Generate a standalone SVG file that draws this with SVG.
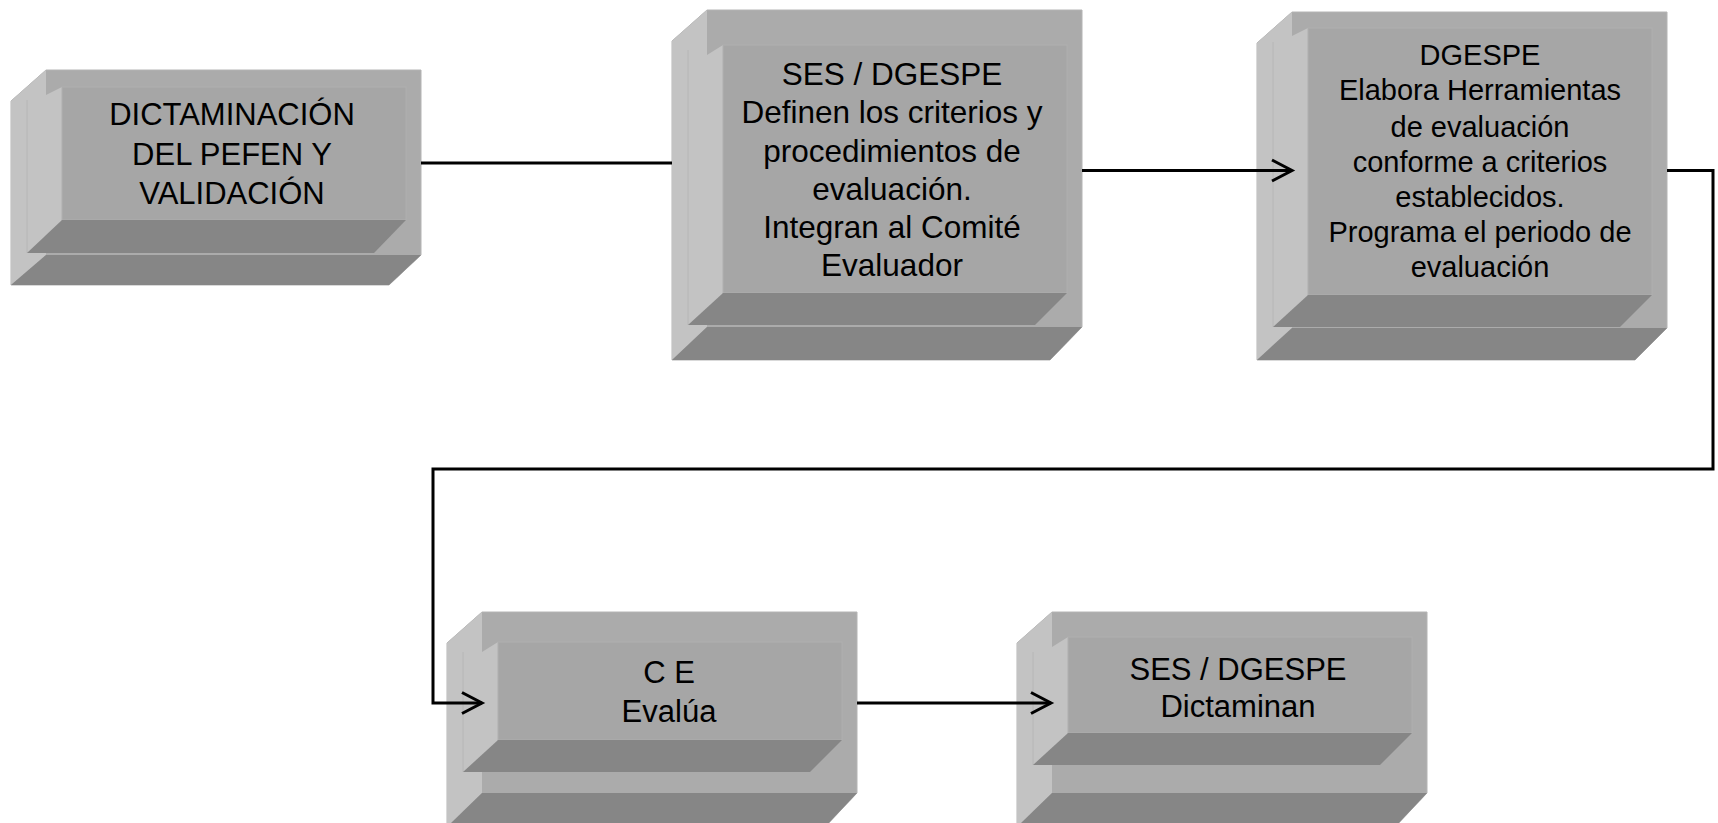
<svg xmlns="http://www.w3.org/2000/svg" width="1718" height="823" viewBox="0 0 1718 823">
<style>
.sil{fill:#ababab;stroke:#b4b4b4;stroke-width:1}
.panel{fill:#c3c3c3}
.pline{stroke:#b6b6b6;stroke-width:1;fill:none}
.face{fill:#a6a6a6;stroke:#afafaf;stroke-width:1}
.dark{fill:#868686}
.txt{font-family:"Liberation Sans",Arial,sans-serif;font-size:31px;fill:#000;text-anchor:middle}
.con{fill:none;stroke:#000;stroke-width:3;stroke-linejoin:miter}
</style>
<defs>
<marker id="arr" markerUnits="userSpaceOnUse" markerWidth="30" markerHeight="30" viewBox="-24 -15 30 30" refX="0" refY="0" orient="auto">
<path d="M-20,-10.5 L0,0 L-20,10.5" fill="none" stroke="#000" stroke-width="3"/>
</marker>
</defs>
<rect width="1718" height="823" fill="#fff"/>

<g id="node1" transform="translate(11,70)">
<path class="sil" d="M0,31 L35,0 L410,0 L410,185 L378,215 L0,215 Z"/>
<path class="panel" d="M0,31 L35,0 L35,25 L51,17 L51,150 L35,183 L35,185 L0,215 Z"/>
<line class="pline" x1="16" y1="30" x2="16" y2="183"/>
<rect class="face" x="51" y="17" width="344" height="133"/>
<path class="dark" d="M51,150 L395,150 L363,183 L16,183 Z"/>
<path class="dark" d="M35,185 L410,185 L378,215 L0,215 Z"/>
<text class="txt" x="221" y="55">DICTAMINACIÓN</text>
<text class="txt" x="221" y="95">DEL PEFEN Y</text>
<text class="txt" x="221" y="134">VALIDACIÓN</text>
</g>

<g id="node2" transform="translate(672,10)">
<path class="sil" d="M0,31 L35,0 L410,0 L410,317 L378,350 L0,350 Z"/>
<path class="panel" d="M0,31 L35,0 L35,45 L51,35 L51,283 L35,315 L35,317 L0,350 Z"/>
<line class="pline" x1="16" y1="40" x2="16" y2="315"/>
<rect class="face" x="51" y="35" width="344" height="248"/>
<path class="dark" d="M51,283 L395,283 L363,315 L16,315 Z"/>
<path class="dark" d="M35,317 L410,317 L378,350 L0,350 Z"/>
<g class="txt" style="font-size:31.5px">
<text x="220" y="75">SES / DGESPE</text>
<text x="220" y="113.3">Definen los criterios y</text>
<text x="220" y="151.6">procedimientos de</text>
<text x="220" y="190">evaluación.</text>
<text x="220" y="228">Integran al Comité</text>
<text x="220" y="266">Evaluador</text>
</g>
</g>

<g id="node3" transform="translate(1257,12)">
<path class="sil" d="M0,31 L35,0 L410,0 L410,316 L378,348 L0,348 Z"/>
<path class="panel" d="M0,31 L35,0 L35,24 L51,16 L51,283 L35,315 L35,316 L0,348 Z"/>
<line class="pline" x1="16" y1="30" x2="16" y2="315"/>
<rect class="face" x="51" y="16" width="344" height="267"/>
<path class="dark" d="M51,283 L395,283 L363,315 L16,315 Z"/>
<path class="dark" d="M35,316 L410,316 L378,348 L0,348 Z"/>
<g class="txt" style="font-size:29px">
<text x="223" y="53">DGESPE</text>
<text x="223" y="88">Elabora Herramientas</text>
<text x="223" y="125">de evaluación</text>
<text x="223" y="160">conforme a criterios</text>
<text x="223" y="195">establecidos.</text>
<text x="223" y="230">Programa el periodo de</text>
<text x="223" y="265">evaluación</text>
</g>
</g>

<g id="node4" transform="translate(447,612)">
<path class="sil" d="M0,31 L35,0 L410,0 L410,181 L378,215 L0,215 Z"/>
<path class="panel" d="M0,31 L35,0 L35,40 L51,30 L51,128 L35,160 L35,181 L0,215 Z"/>
<line class="pline" x1="16" y1="40" x2="16" y2="160"/>
<rect class="face" x="51" y="30" width="344" height="98"/>
<path class="dark" d="M51,128 L395,128 L363,160 L16,160 Z"/>
<path class="dark" d="M35,181 L410,181 L378,215 L0,215 Z"/>
<text class="txt" x="222" y="71">C E</text>
<text class="txt" x="222" y="110">Evalúa</text>
</g>

<g id="node5" transform="translate(1017,612)">
<path class="sil" d="M0,31 L35,0 L410,0 L410,181 L378,215 L0,215 Z"/>
<path class="panel" d="M0,31 L35,0 L35,35 L51,25 L51,121 L35,153 L35,181 L0,215 Z"/>
<line class="pline" x1="16" y1="40" x2="16" y2="153"/>
<rect class="face" x="51" y="25" width="344" height="96"/>
<path class="dark" d="M51,121 L395,121 L363,153 L16,153 Z"/>
<path class="dark" d="M35,181 L410,181 L378,215 L0,215 Z"/>
<text class="txt" x="221" y="68">SES / DGESPE</text>
<text class="txt" x="221" y="105">Dictaminan</text>
</g>

<g id="connectors">
<path class="con" d="M421,163 L672,163"/>
<path class="con" d="M1082,170.5 L1292,170.5" marker-end="url(#arr)"/>
<path class="con" d="M1667,170.5 L1713,170.5 L1713,469 L433,469 L433,703 L482,703" marker-end="url(#arr)"/>
<path class="con" d="M857,703 L1051,703" marker-end="url(#arr)"/>
</g>
</svg>
